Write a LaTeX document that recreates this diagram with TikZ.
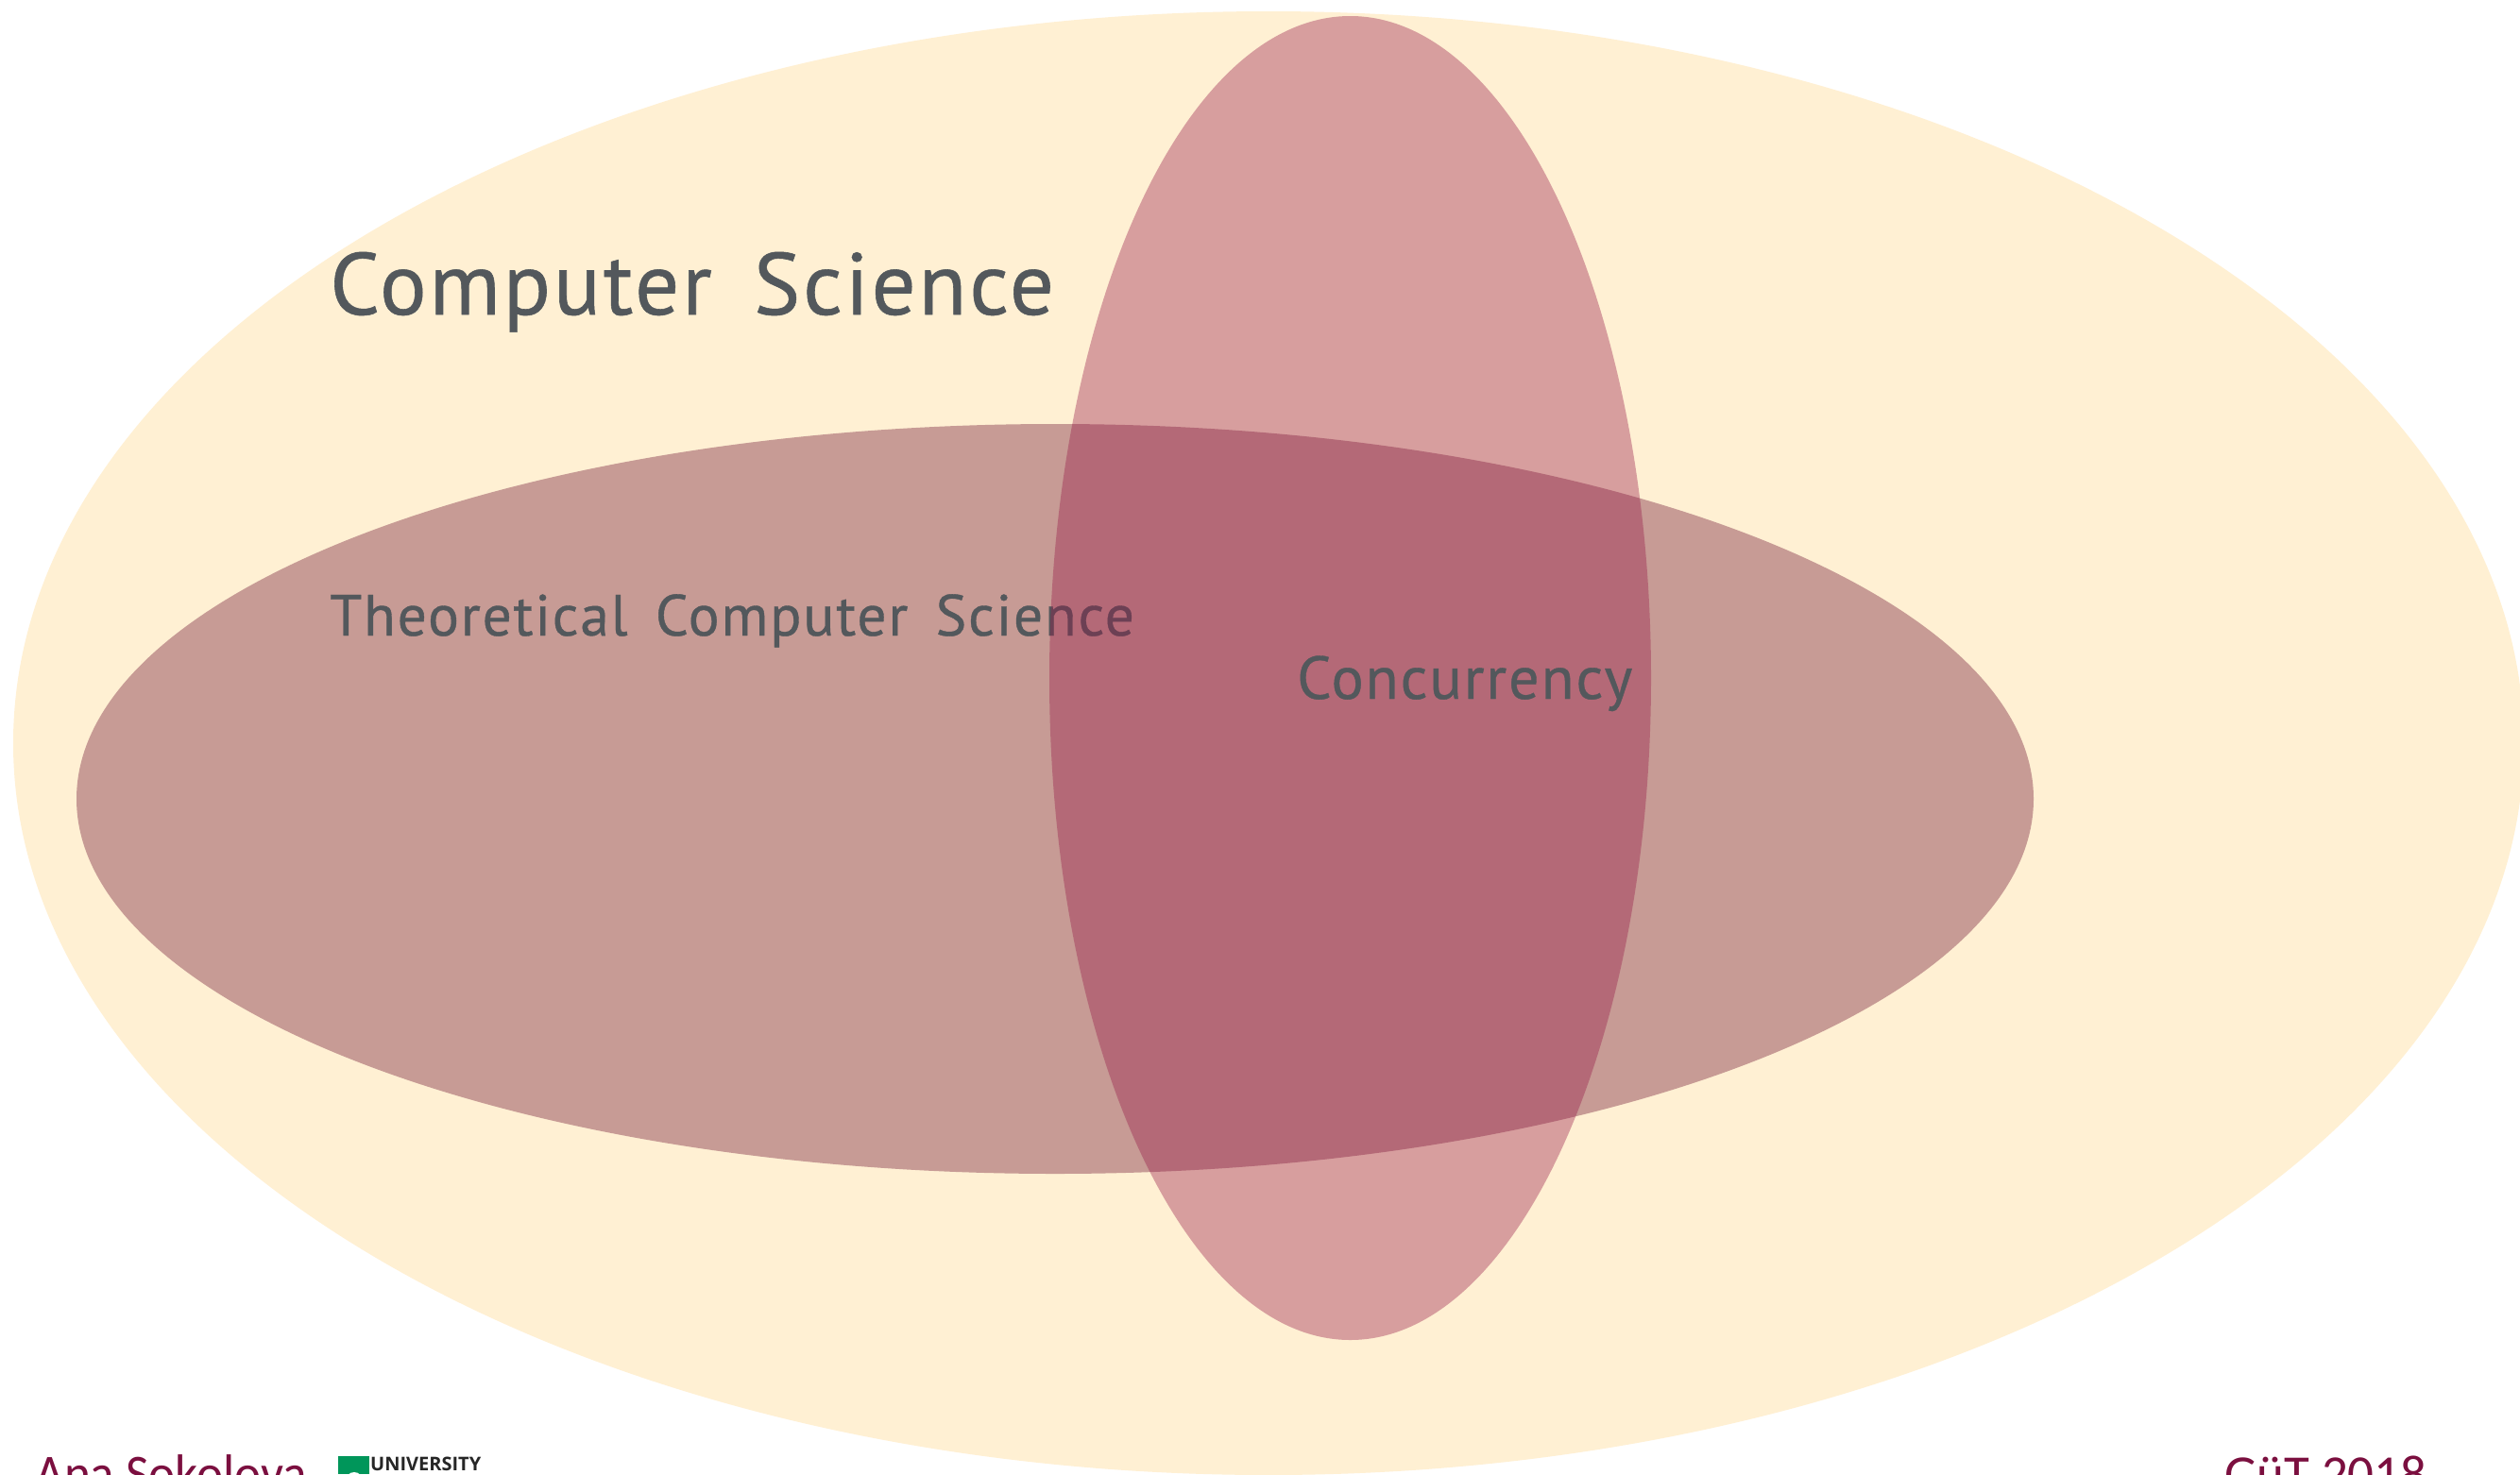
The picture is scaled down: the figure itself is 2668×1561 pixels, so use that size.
\documentclass[tikz,border=0pt]{standalone}
\usepackage{fontspec}
\setmainfont{Lato}
\newfontfamily\handfont[LetterSpace=3,WordSpace=1.6,FakeBold=0.6]{PT Sans}
\newfontfamily\footfont{Carlito}
\newfontfamily\footnarrow[FakeStretch=0.95]{Carlito}
\newfontfamily\logofont{Open Sans}
\definecolor{csyellow}{HTML}{FFF0D3}
\definecolor{tcsmauve}{HTML}{C79B95}
\definecolor{concrose}{HTML}{961A48}
\definecolor{labelgrey}{HTML}{53585C}
\definecolor{footmaroon}{HTML}{7B0F3F}
\definecolor{logogreen}{HTML}{00965A}
\tikzset{
  lab/.style={anchor=base west,inner sep=0pt,text=labelgrey},
  foot/.style={anchor=base west,inner sep=0pt,text=footmaroon},
}
\begin{document}
\begin{tikzpicture}[x=1pt,y=-1pt]
\useasboundingbox (0,0) rectangle (2668,1561);
\clip (0,0) rectangle (2668,1561);
\fill[white] (0,0) rectangle (2668,1561);
\fill[csyellow] (1343,787) ellipse [x radius=1329,y radius=775];
\fill[tcsmauve] (1117,846) ellipse [x radius=1036,y radius=397];
\node[lab] (cs) at (349,333) {\handfont\fontsize{93}{93}\selectfont Computer Science};
\node[lab] (tcs) at (349,673) {\handfont\fontsize{61.5}{62}\selectfont Theoretical Computer Science};
\fill[concrose,fill opacity=0.38] (1429.5,718) ellipse [x radius=318.5,y radius=701];
\node[lab] (conc) at (1373,740) {\handfont\fontsize{64}{64}\selectfont Concurrency};
\node[foot] (ana) at (37,1579) {\footnarrow\fontsize{56}{56}\selectfont Ana Sokolova};
\node[foot] (git) at (2355,1579) {\footfont\fontsize{55}{55}\selectfont GüT 2018};
\fill[logogreen] (358,1542) rectangle (391,1561);
\fill[white] (375,1568) circle [radius=9];
\node[anchor=base west,inner sep=0pt,text=black!85] (uni) at (392,1557) {\logofont\bfseries\fontsize{20}{20}\selectfont UNIVERSITY};
\end{tikzpicture}
\end{document}
